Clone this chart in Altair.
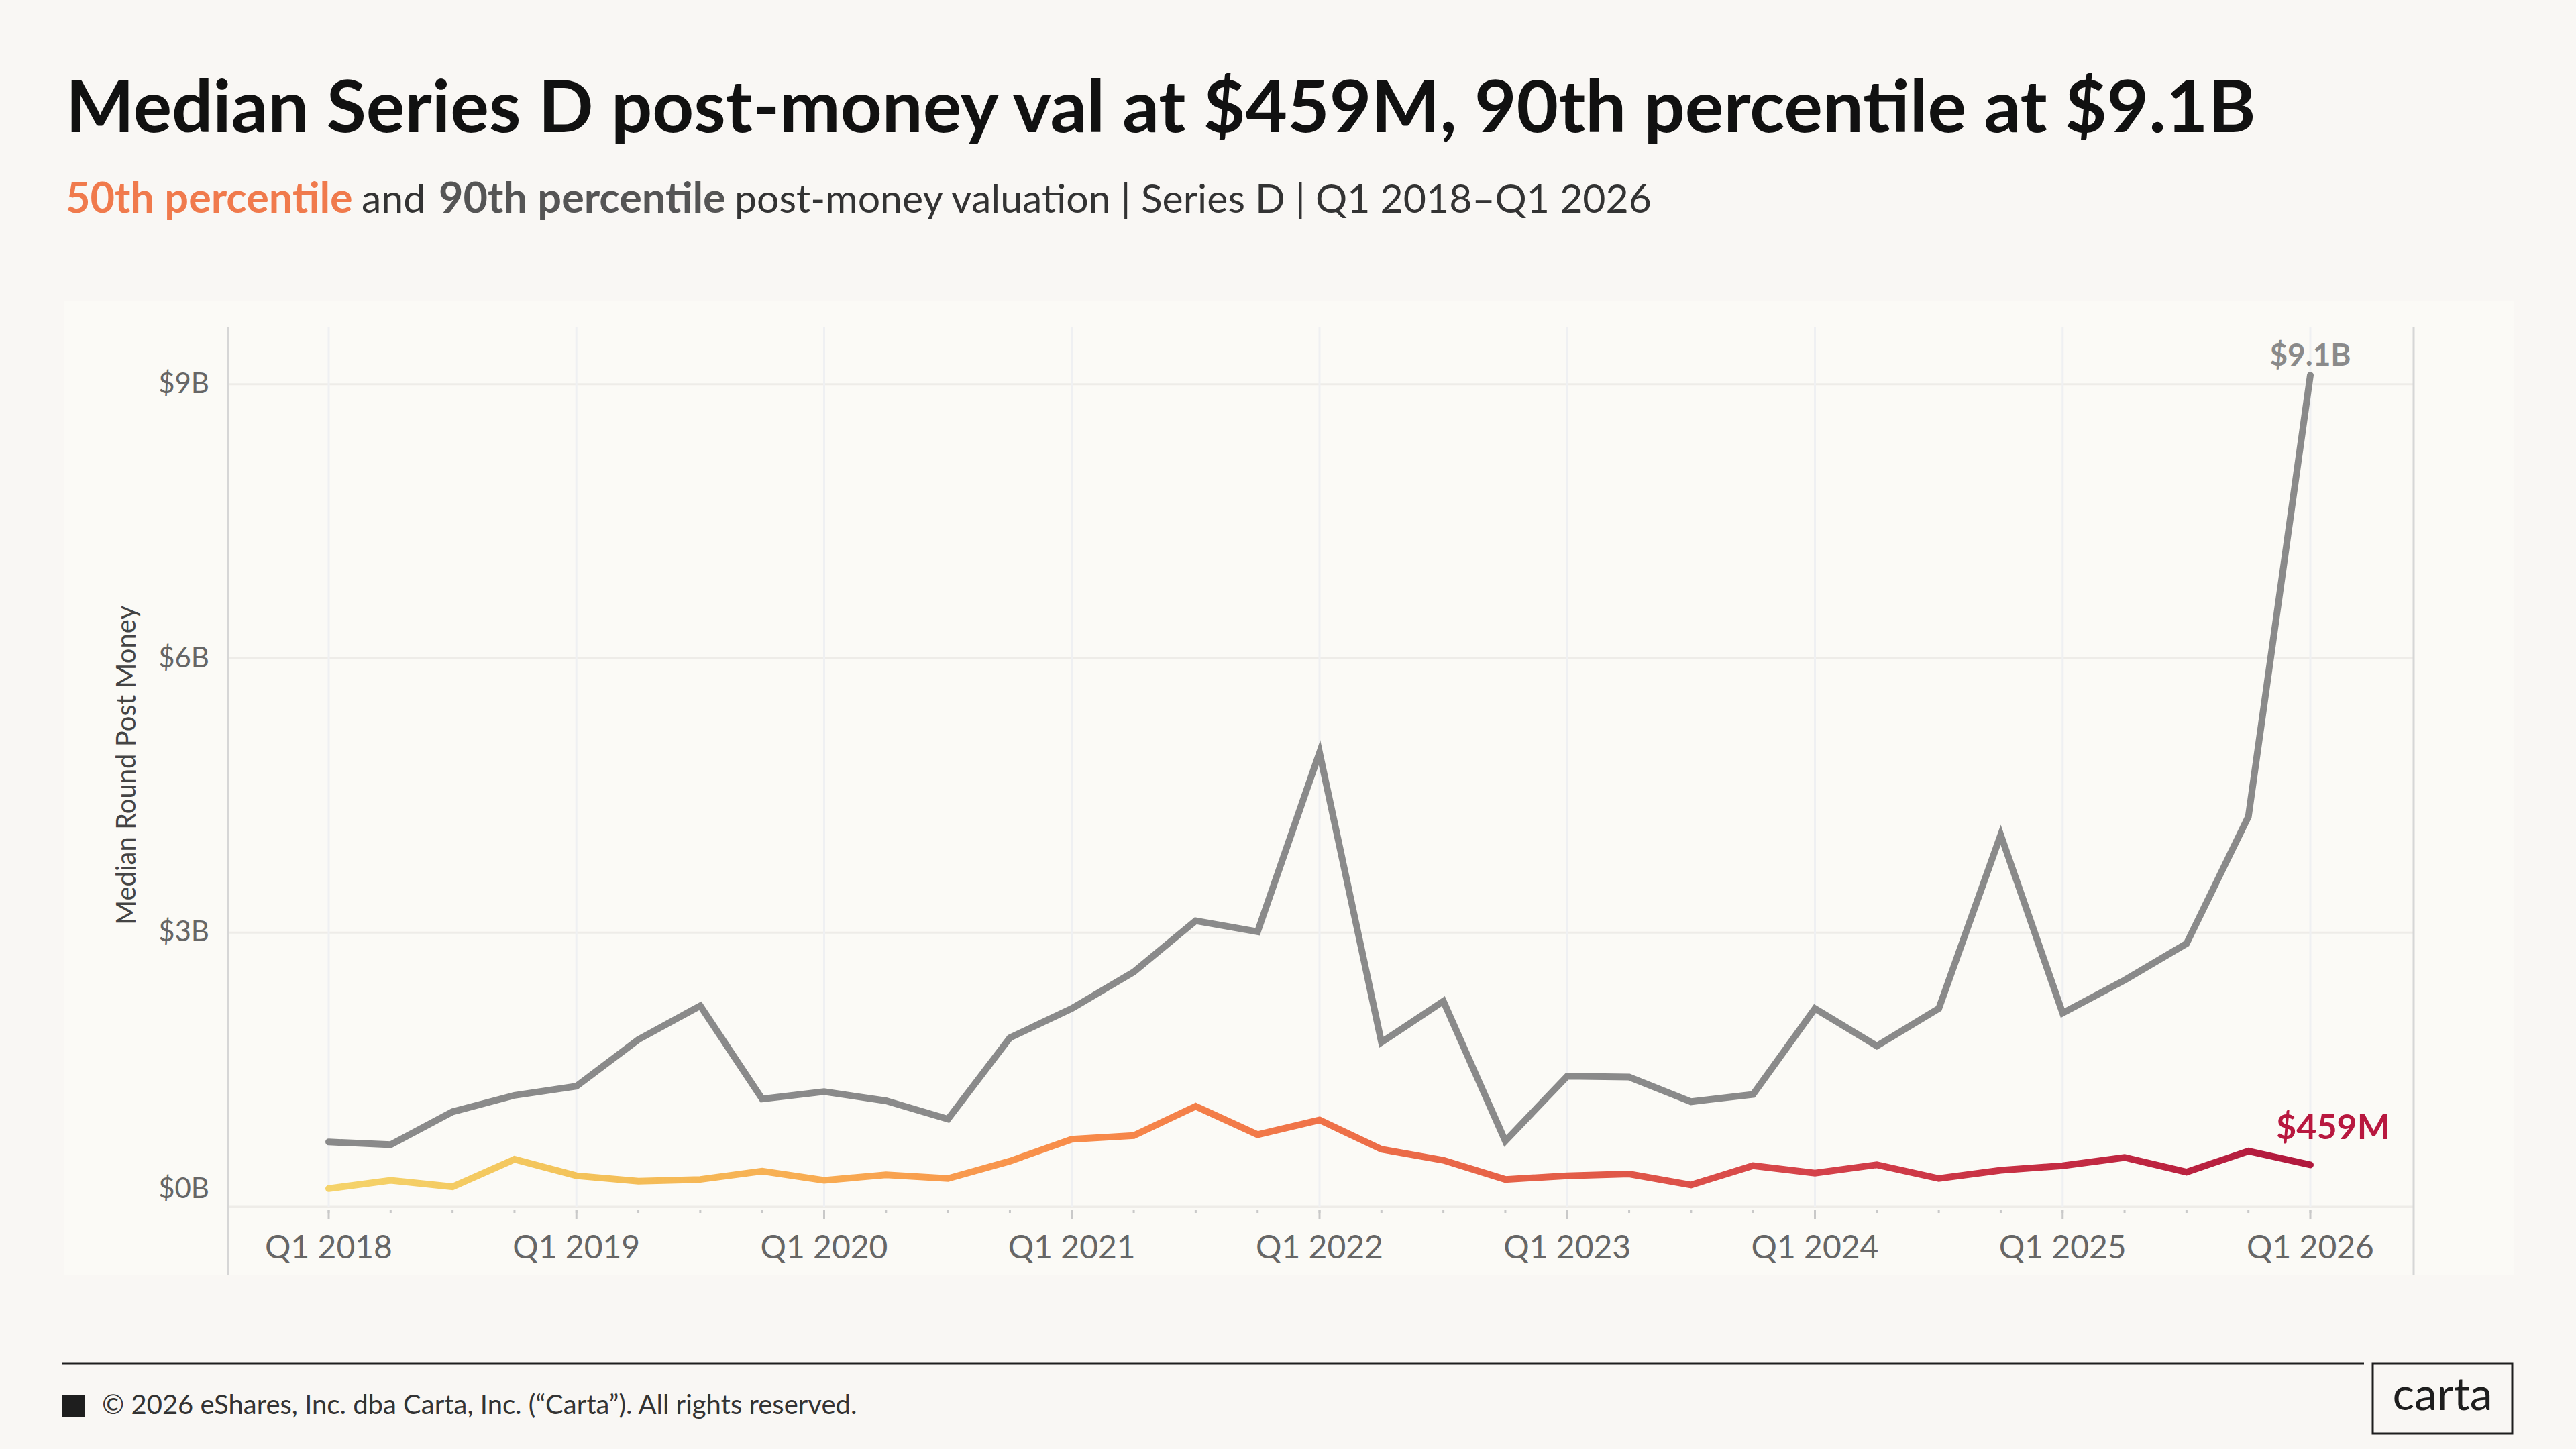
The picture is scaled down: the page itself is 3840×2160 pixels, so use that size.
import altair as alt
import pandas as pd

# Quarterly Series D post-money valuations, in $B
quarters = [
    "Q1 2018", "Q2 2018", "Q3 2018", "Q4 2018",
    "Q1 2019", "Q2 2019", "Q3 2019", "Q4 2019",
    "Q1 2020", "Q2 2020", "Q3 2020", "Q4 2020",
    "Q1 2021", "Q2 2021", "Q3 2021", "Q4 2021",
    "Q1 2022", "Q2 2022", "Q3 2022", "Q4 2022",
    "Q1 2023", "Q2 2023", "Q3 2023", "Q4 2023",
    "Q1 2024", "Q2 2024", "Q3 2024", "Q4 2024",
    "Q1 2025", "Q2 2025", "Q3 2025", "Q4 2025",
    "Q1 2026",
]
p50 = [
    0.20, 0.29, 0.22, 0.52, 0.34, 0.28, 0.30, 0.39,
    0.29, 0.35, 0.31, 0.50, 0.74, 0.78, 1.10, 0.79,
    0.95, 0.63, 0.51, 0.30, 0.34, 0.36, 0.24, 0.45,
    0.37, 0.46, 0.31, 0.40, 0.45, 0.54, 0.38, 0.61,
    0.459,
]
p90 = [
    0.71, 0.68, 1.04, 1.22, 1.32, 1.83, 2.20, 1.18,
    1.26, 1.16, 0.96, 1.85, 2.17, 2.57, 3.13, 3.01,
    4.97, 1.80, 2.25, 0.72, 1.43, 1.42, 1.15, 1.23,
    2.17, 1.76, 2.17, 4.07, 2.12, 2.48, 2.88, 4.27,
    9.1,
]
y_ticks = [0, 3, 6, 9]
y_title = "Median Round Post Money"

title_text = "Median Series D post-money val at $459M, 90th percentile at $9.1B"
subtitle_parts = [
    ("50th percentile", "#F07A4C", "bold", 63),
    ("and", "#333333", "normal", 59),
    ("90th percentile", "#555555", "bold", 63),
    ("post-money valuation | Series D | Q1 2018\u2013Q1 2026", "#333333", "normal", 59),
]
footer_text = "\u00a9 2026 eShares, Inc. dba Carta, Inc. (\u201cCarta\u201d). All rights reserved."

df = pd.DataFrame({"quarter": quarters, "p50": p50, "p90": p90})
df["year_start"] = df["quarter"].str.startswith("Q1")
ticks_df = pd.DataFrame({"v": y_ticks})
ticks_df["label"] = ["$" + str(v) + "B" for v in y_ticks]

W, H = 3258, 1312
FONT = "Lato"
PAGE = "#F9F7F4"
PANEL = "#FBFAF6"
LABEL = "#666666"

x_scale = alt.Scale(type="point", padding=0, range=[150, 3104])
x_enc = alt.X("quarter:O", sort=quarters, scale=x_scale, axis=None)
y_scale = alt.Scale(domain=[0, 9.63], nice=False, zero=True)

base = alt.Chart(df)
one = pd.DataFrame({"k": [0]})


def page_band(x1, x2, y1, y2):
    return alt.Chart(one).mark_rect(fill=PAGE).encode(
        x=alt.value(x1), x2=alt.value(x2), y=alt.value(y1), y2=alt.value(y2)
    )


# the chart panel is the background colour; the page border around it is painted on top
page_border = [
    page_band(-340, 3500, -487, -39),
    page_band(-340, 3500, 1413, 1673),
    page_band(-340, -244, -39, 1413),
    page_band(3407, 3500, -39, 1413),
]

# y gridlines and labels
y_grid = alt.Chart(ticks_df).mark_rule(color="#EEECE8", strokeWidth=3).encode(
    y=alt.Y("v:Q", scale=y_scale, axis=None), x=alt.value(0), x2=alt.value(W)
)
y_labels = alt.Chart(ticks_df).transform_filter("datum.v > 0").mark_text(
    font=FONT, fontSize=42, color=LABEL, align="right", baseline="middle"
).encode(y=alt.Y("v:Q", scale=y_scale, axis=None), x=alt.value(-28), text="label:N")
y_label_zero = alt.Chart(ticks_df).transform_filter("datum.v === 0").mark_text(
    font=FONT, fontSize=42, color=LABEL, align="right", baseline="middle", dy=-26
).encode(y=alt.Y("v:Q", scale=y_scale, axis=None), x=alt.value(-28), text="label:N")
y_title_mark = alt.Chart(one).mark_text(
    text=y_title, font=FONT, fontSize=40, color="#444444", angle=270,
    align="center", baseline="middle",
).encode(x=alt.value(-150), y=alt.value(654))

# yearly gridlines, quarter ticks, and year labels along the bottom
year_grid = base.transform_filter("datum.year_start").mark_rule(
    color="#EFF0F2", strokeWidth=3
).encode(x=x_enc, y=alt.value(0), y2=alt.value(H))
quarter_ticks = base.mark_rule(color="#C9C9C9", strokeWidth=3).encode(
    x=x_enc, y=alt.value(H + 5), y2=alt.value(H + 9)
)
year_ticks = base.transform_filter("datum.year_start").mark_rule(
    color="#C9C9C9", strokeWidth=3
).encode(x=x_enc, y=alt.value(H + 5), y2=alt.value(H + 18))
x_labels = base.transform_filter("datum.year_start").mark_text(
    font=FONT, fontSize=48, color=LABEL, align="center", baseline="middle"
).encode(x=x_enc, y=alt.value(H + 63), text="quarter:N")

frame_left = alt.Chart(one).mark_rule(color="#D6D6D6", strokeWidth=3).encode(
    x=alt.value(0), y=alt.value(0), y2=alt.value(1413)
)
frame_right = alt.Chart(one).mark_rule(color="#D6D6D6", strokeWidth=3).encode(
    x=alt.value(W), y=alt.value(0), y2=alt.value(1413)
)

line90 = base.mark_line(color="#8A8A8A", strokeWidth=10, strokeCap="round").encode(
    x=x_enc,
    y=alt.Y("p90:Q", scale=y_scale, axis=None),
)

gradient = alt.Gradient(
    gradient="linear",
    x1=0, x2=1, y1=0, y2=0,
    stops=[
        alt.GradientStop(color="#F5D36A", offset=0.0),
        alt.GradientStop(color="#F3C35A", offset=0.125),
        alt.GradientStop(color="#F8AB52", offset=0.25),
        alt.GradientStop(color="#F88C4A", offset=0.375),
        alt.GradientStop(color="#EF7248", offset=0.5),
        alt.GradientStop(color="#E35D48", offset=0.625),
        alt.GradientStop(color="#D4424A", offset=0.75),
        alt.GradientStop(color="#C42B42", offset=0.875),
        alt.GradientStop(color="#B0183D", offset=1.0),
    ],
)
line50 = base.mark_line(color=gradient, strokeWidth=10, strokeCap="round").encode(
    x=x_enc,
    y=alt.Y("p50:Q", scale=y_scale, axis=None),
)

last = quarters[-1]
lbl90 = (
    base.transform_filter(alt.datum.quarter == last)
    .transform_calculate(label="'$' + format(datum.p90, '.1f') + 'B'")
    .mark_text(font=FONT, fontWeight="bold", fontSize=46, color="#8A8A8A",
               align="center", baseline="alphabetic", dy=-14)
    .encode(x=x_enc, y=alt.Y("p90:Q", scale=y_scale, axis=None), text="label:N")
)
lbl50 = (
    base.transform_filter(alt.datum.quarter == last)
    .transform_calculate(label="'$' + format(datum.p50 * 1000, '.0f') + 'M'")
    .mark_text(font=FONT, fontWeight="bold", fontSize=52, color="#B8183F",
               align="center", baseline="alphabetic", dx=34, dy=-38)
    .encode(x=x_enc, y=alt.Y("p50:Q", scale=y_scale, axis=None), text="label:N")
)

title = alt.Chart(one).mark_text(
    text=title_text, font=FONT, fontWeight="bold", fontSize=108, color="#111111",
    align="left", baseline="alphabetic",
).encode(x=alt.value(-242), y=alt.value(-290))

sub_x = [-242, 199, 314, 755]
subtitle = [
    alt.Chart(one).mark_text(
        text=txt, font=FONT, fontWeight=wt, fontSize=fs, color=col,
        align="left", baseline="alphabetic",
    ).encode(x=alt.value(sx), y=alt.value(-170))
    for (txt, col, wt, fs), sx in zip(subtitle_parts, sub_x)
]

footer_line = alt.Chart(one).mark_rule(color="#1E1E1E", strokeWidth=3).encode(
    x=alt.value(-247), x2=alt.value(3184), y=alt.value(1546)
)
logo_box = alt.Chart(one).mark_rect(
    fillOpacity=0, stroke="#1E1E1E", strokeWidth=3
).encode(x=alt.value(3197), x2=alt.value(3405), y=alt.value(1546), y2=alt.value(1650))
logo_text = alt.Chart(one).mark_text(
    text="carta", font=FONT, fontSize=68, color="#1E1E1E",
    align="center", baseline="middle",
).encode(x=alt.value(3301), y=alt.value(1595))
square = alt.Chart(one).mark_rect(fill="#1E1E1E").encode(
    x=alt.value(-247), x2=alt.value(-214), y=alt.value(1593), y2=alt.value(1625)
)
copyright_text = alt.Chart(one).mark_text(
    text=footer_text, font=FONT, fontSize=40, color="#333333",
    align="left", baseline="middle",
).encode(x=alt.value(-188), y=alt.value(1609))

chart = (
    alt.layer(
        *page_border, y_grid, year_grid, quarter_ticks, year_ticks, frame_left, frame_right,
        y_labels, y_label_zero, y_title_mark, x_labels,
        line90, line50, lbl90, lbl50,
        title, *subtitle, footer_line, logo_box, logo_text, square, copyright_text,
    )
    .properties(
        width=W,
        height=H,
        padding={"left": 340, "top": 487, "right": 242, "bottom": 361},
        autosize=alt.AutoSizeParams(type="none"),
        background=PANEL,
    )
    .configure_view(stroke=None)
)

chart.save("out.html", embed_options={"renderer": "svg", "actions": False})
